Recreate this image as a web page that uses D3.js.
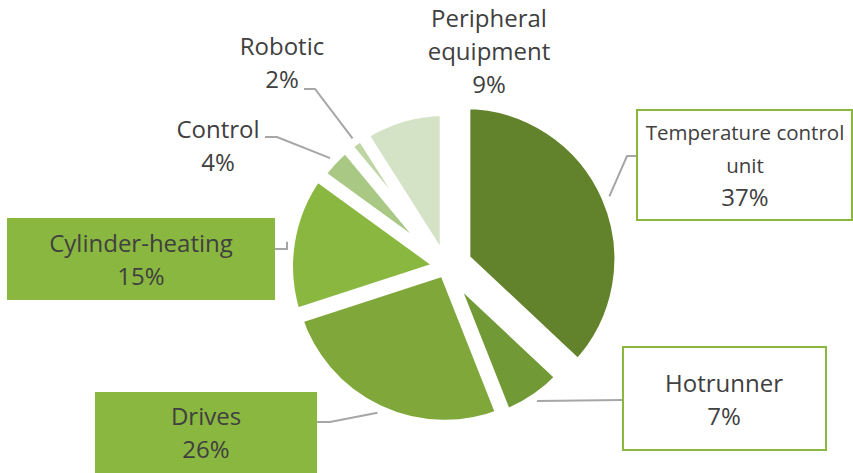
<!DOCTYPE html>
<html>
<head>
<meta charset="utf-8">
<script src="https://cdn.jsdelivr.net/npm/d3@7"></script>
<style>
  body { margin: 0; background: #fff; }
  svg { display: block; font-family: "Open Sans", sans-serif; }
</style>
</head>
<body>
<svg class="pie" width="853" height="473"></svg>
<script>
var categories = ["Temperature control unit", "Hotrunner", "Drives", "Cylinder-heating", "Control", "Robotic", "Peripheral equipment"];
var shares = [37, 7, 26, 15, 4, 2, 9];
var labelLines = [["Temperature control", "unit"], ["Hotrunner"], ["Drives"], ["Cylinder-heating"], ["Control"], ["Robotic"], ["Peripheral", "equipment"]];

var sliceColors = ["#62832b", "#719a37", "#7fa739", "#8ab73f", "#a9c884", "#bdd6a3", "#d4e2c5"];
var explode = [20, 4, 3, 3, 1, 1, 1];

var CENTER = [446, 267];
var RADIUS = 156;
var BOX_GREEN = "#8ab73f";
var TEXT_COLOR = "#404040";
var LINE_COLOR = "#a6a6a6";

// label boxes: x, y, w, h, filled?, text center, first baseline, name font size, elbow
var labelLayout = [
  {box: [637, 110, 215, 110], fill: false, cx: 745, base: 140, size: 20.5, elbow: [[637, 156], [627, 156]]},
  {box: [623, 347, 203, 103], fill: false, cx: 724, base: 392, size: 24, elbow: [[623, 400]]},
  {box: [95, 392, 222, 90], fill: true, cx: 206, base: 425, size: 24, elbow: [[317, 422], [330, 422]]},
  {box: [7, 218, 268, 82], fill: true, cx: 141, base: 252, size: 24, elbow: [[275, 249], [287, 249]]},
  {box: null, cx: 218, base: 138, size: 24, elbow: [[265, 137], [277, 137]]},
  {box: null, cx: 282, base: 55, size: 24, elbow: [[304, 89], [315, 89]]},
  {box: null, cx: 489, base: 27, size: 24, elbow: null}
];

var pie = d3.pie().sort(null).value(function(d){ return d; });
var arcs = pie(shares);

var arc = d3.arc().innerRadius(0).outerRadius(RADIUS);

var dir = function(a){ return [Math.sin(a), -Math.cos(a)]; };

var apex = function(d){
  var u = dir((d.startAngle + d.endAngle) / 2);
  var e = explode[d.index];
  return [CENTER[0] + e * u[0], CENTER[1] + e * u[1]];
};

var svg = d3.select('.pie');

var drawSlices = function(){
  svg.append('g').classed('slices', true)
    .selectAll('path')
    .data(arcs)
    .enter()
    .append('path')
    .attr('transform', function(d){ var p = apex(d); return 'translate(' + p[0] + ',' + p[1] + ')'; })
    .attr('d', arc)
    .attr('fill', function(d){ return sliceColors[d.index]; })
    .attr('stroke', '#fff')
    .attr('stroke-width', 12)
    .attr('stroke-linejoin', 'miter');
};

var drawLeaders = function(){
  var line = d3.line();
  svg.append('g').classed('leaders', true)
    .selectAll('path')
    .data(arcs.filter(function(d){ return labelLayout[d.index].elbow; }))
    .enter()
    .append('path')
    .attr('d', function(d){
      var p = apex(d);
      var u = dir((d.startAngle + d.endAngle) / 2);
      var end = [p[0] + (RADIUS + 2) * u[0], p[1] + (RADIUS + 2) * u[1]];
      return line(labelLayout[d.index].elbow.concat([end]));
    })
    .attr('fill', 'none')
    .attr('stroke', LINE_COLOR)
    .attr('stroke-width', 2);
};

var drawLabels = function(){
  var g = svg.append('g').classed('labels', true);
  arcs.forEach(function(d){
    var L = labelLayout[d.index];
    if (L.box) {
      g.append('rect')
        .attr('x', L.box[0]).attr('y', L.box[1])
        .attr('width', L.box[2]).attr('height', L.box[3])
        .attr('fill', L.fill ? BOX_GREEN : '#fff')
        .attr('stroke', L.fill ? 'none' : BOX_GREEN)
        .attr('stroke-width', 2);
    }
    var lines = labelLines[d.index];
    var t = g.append('text')
      .attr('text-anchor', 'middle')
      .attr('fill', TEXT_COLOR);
    lines.forEach(function(s, i){
      t.append('tspan')
        .attr('x', L.cx)
        .attr('y', L.base + i * 33)
        .attr('font-size', L.size)
        .text(s);
    });
    t.append('tspan')
      .attr('x', L.cx)
      .attr('y', L.base + lines.length * 33)
      .attr('font-size', 24)
      .text(shares[d.index] + '%');
  });
};

var renderChart = function(){
  drawSlices();
  drawLeaders();
  drawLabels();
};

window.onload = renderChart;
</script>
</body>
</html>
